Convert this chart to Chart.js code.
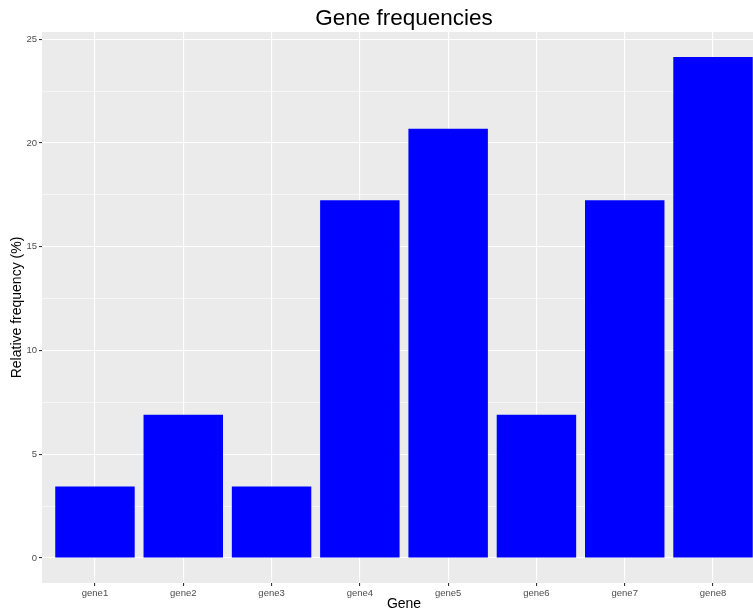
<!DOCTYPE html>
<html>
<head>
<meta charset="utf-8">
<script src="https://cdn.jsdelivr.net/npm/chart.js@4"></script>
<style>
  html, body { margin: 0; padding: 0; background: #fff; overflow: hidden; }
  #wrap { width: 780px; height: 613px; }
</style>
</head>
<body>
<div id="wrap"><canvas id="grafico" width="780" height="613"></canvas></div>
<script>
// dados
const genes = ["gene1", "gene2", "gene3", "gene4", "gene5", "gene6", "gene7", "gene8"];
const frequencias = [3.45, 6.90, 3.45, 17.24, 20.69, 6.90, 17.24, 24.14];
const yTicks = [0, 5, 10, 15, 20, 25];

const fonte = "'Liberation Sans', Arial, Helvetica, sans-serif";

// fundo cinza do painel (estilo ggplot)
const fundoPainel = {
  id: 'fundoPainel',
  beforeDraw(chart) {
    const { ctx, chartArea: a } = chart;
    ctx.save();
    ctx.fillStyle = '#EBEBEB';
    ctx.fillRect(a.left, a.top, a.right - a.left, a.bottom - a.top);
    ctx.restore();
  }
};

const ctx = document.getElementById("grafico").getContext("2d");

new Chart(ctx, {
  type: 'bar',
  data: {
    datasets: [{
      data: frequencias.map((v, i) => ({ x: i, y: v })),
      backgroundColor: '#0000FF',
      borderWidth: 0,
      barPercentage: 0.9,
      categoryPercentage: 1.0
    }]
  },
  options: {
    responsive: false,
    animation: false,
    devicePixelRatio: 1,
    layout: { padding: { left: 0, right: 14, top: 0, bottom: 0 } },
    plugins: {
      legend: { display: false },
      tooltip: { enabled: false },
      title: {
        display: true,
        fullSize: false,
        text: 'Gene frequencies',
        color: '#000',
        font: { family: fonte, size: 22.5, weight: 'normal', lineHeight: 1.2 },
        padding: { top: 5, bottom: 0 }
      }
    },
    scales: {
      x: {
        type: 'linear',
        min: -0.6,
        max: 7.6,
        offset: false,
        afterBuildTicks(scale) {
          scale.ticks = genes.map((g, i) => ({ value: i }));
        },
        afterFit(scale) { scale.height = 30; },
        border: { display: false },
        grid: {
          offset: false,
          color: '#FFFFFF',
          lineWidth: 1.1,
          tickColor: '#333333',
          tickLength: 3
        },
        ticks: {
          color: '#4D4D4D',
          font: { family: fonte, size: 9.5 },
          padding: 2,
          maxRotation: 0,
          autoSkip: false,
          callback: v => genes[v]
        },
        title: {
          display: true,
          text: 'Gene',
          color: '#000',
          font: { family: fonte, size: 14 },
          padding: { top: 0, bottom: 0 }
        }
      },
      y: {
        min: -1.207,
        max: 25.35,
        afterBuildTicks(scale) {
          const t = [];
          for (let v = 0; v <= 25; v += 2.5) t.push({ value: v });
          scale.ticks = t;
        },
        afterFit(scale) { scale.width = 42; },
        border: { display: false },
        grid: {
          color: '#FFFFFF',
          lineWidth: c => (c.tick && yTicks.includes(c.tick.value)) ? 1.1 : 0.55,
          tickColor: c => (c.tick && yTicks.includes(c.tick.value)) ? '#333333' : 'rgba(0,0,0,0)',
          tickLength: 3
        },
        ticks: {
          color: '#4D4D4D',
          font: { family: fonte, size: 9.5 },
          padding: 2,
          autoSkip: false,
          callback: v => yTicks.includes(v) ? v : ''
        },
        title: {
          display: true,
          text: 'Relative frequency (%)',
          color: '#000',
          font: { family: fonte, size: 14 },
          padding: { top: 9, bottom: 0 }
        }
      }
    }
  },
  plugins: [fundoPainel]
});
</script>
</body>
</html>
